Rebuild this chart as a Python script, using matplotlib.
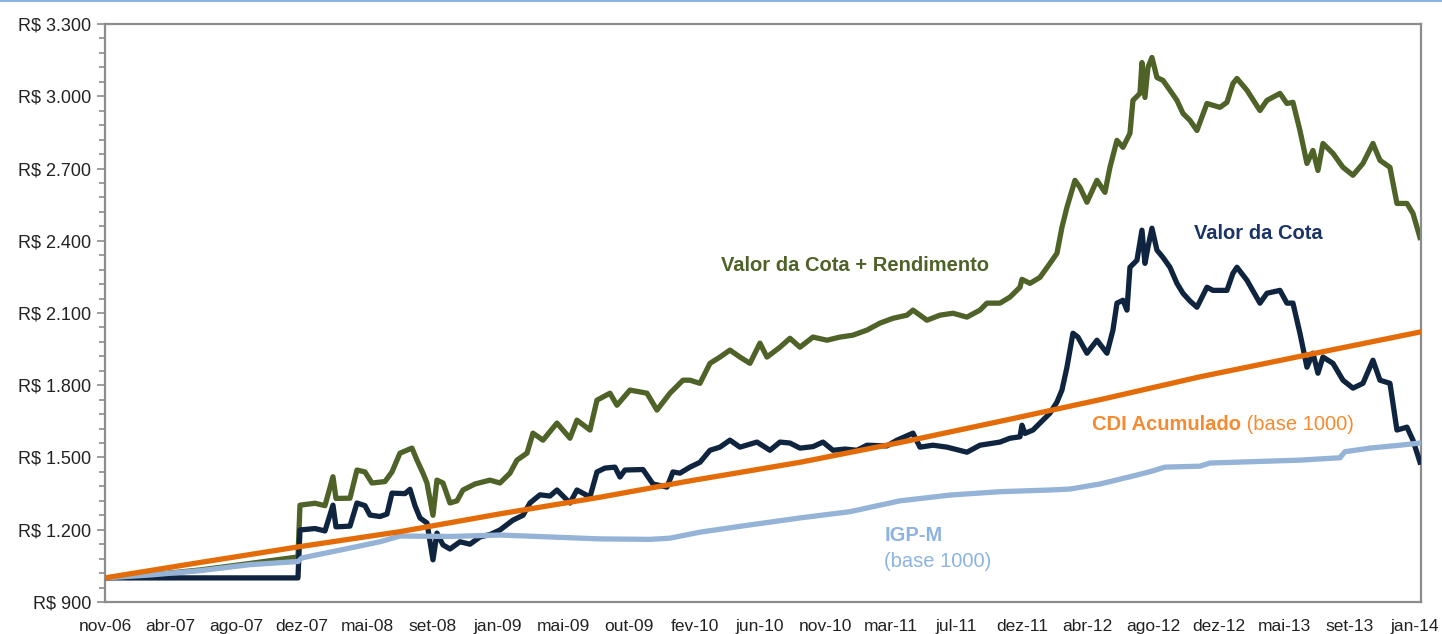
#------------------------------------------------------------------------------
#   Valor da Cota x CDI x IGP-M (base 1000), nov-06 a jan-14
#------------------------------------------------------------------------------
import matplotlib
matplotlib.use("Agg")
import matplotlib.pyplot as plt
from matplotlib.lines import Line2D
from matplotlib.ticker import FuncFormatter, MultipleLocator
import numpy as np

# eixo x: dias desde nov-06
tick_labels = ["nov-06", "abr-07", "ago-07", "dez-07", "mai-08", "set-08", "jan-09",
               "mai-09", "out-09", "fev-10", "jun-10", "nov-10", "mar-11", "jul-11",
               "dez-11", "abr-12", "ago-12", "dez-12", "mai-13", "set-13", "jan-14"]
tick_step = 131   # dias entre rótulos

cdi_dias = [0, 190, 390, 590, 790, 990, 1170, 1390, 1590, 1790, 1990, 2190, 2390, 2630]
cdi_valor = [1000, 1064, 1130, 1192, 1266, 1335, 1403, 1480, 1562, 1650, 1740, 1835, 1920, 2021]

igpm_dias = [0, 90, 190, 290, 386, 394, 490, 550, 590, 690, 790, 890, 990, 1090, 1130,
             1190, 1290, 1390, 1490, 1590, 1690, 1790, 1890, 1930, 1990, 2050, 2090,
             2120, 2190, 2210, 2390, 2470, 2480, 2530, 2590, 2630]
igpm_valor = [1000, 1012, 1030, 1055, 1068, 1083, 1124, 1150, 1174, 1172, 1178, 1170,
              1162, 1160, 1165, 1190, 1220, 1249, 1275, 1320, 1344, 1358, 1365, 1369,
              1390, 1420, 1441, 1460, 1464, 1477, 1489, 1499, 1524, 1539, 1551, 1560]

cota_dias = [0, 386, 390, 420, 440, 456, 462, 490, 504, 520, 530, 550, 564, 574, 600,
             610, 620, 630, 644, 656, 664, 676, 690, 710, 730, 750, 770, 790, 816, 836,
             850, 870, 890, 904, 930, 944, 970, 984, 1000, 1020, 1030, 1040, 1076, 1096,
             1124, 1136, 1150, 1170, 1190, 1210, 1230, 1250, 1270, 1304, 1330, 1350,
             1370, 1390, 1416, 1436, 1456, 1480, 1504, 1524, 1564, 1584, 1616, 1630,
             1656, 1684, 1724, 1750, 1790, 1810, 1830, 1834, 1840, 1856, 1870, 1890,
             1904, 1914, 1924, 1936, 1946, 1964, 1984, 2004, 2016, 2024, 2036, 2044,
             2050, 2064, 2074, 2080, 2086, 2094, 2104, 2116, 2130, 2144, 2156, 2170,
             2184, 2204, 2216, 2244, 2256, 2264, 2284, 2310, 2324, 2350, 2364, 2376,
             2390, 2404, 2416, 2426, 2436, 2456, 2476, 2496, 2516, 2536, 2550, 2570,
             2584, 2604, 2616, 2630]
cota_valor = [1000, 1000, 1199, 1205, 1195, 1302, 1212, 1215, 1311, 1300, 1261, 1255,
              1265, 1352, 1350, 1368, 1300, 1249, 1228, 1075, 1186, 1137, 1120, 1150,
              1140, 1170, 1180, 1199, 1240, 1260, 1311, 1345, 1340, 1365, 1311, 1365,
              1336, 1440, 1456, 1460, 1419, 1448, 1450, 1390, 1377, 1440, 1435, 1460,
              1480, 1530, 1543, 1572, 1543, 1564, 1530, 1564, 1560, 1539, 1545, 1564,
              1530, 1535, 1530, 1551, 1548, 1572, 1601, 1543, 1551, 1543, 1522, 1551,
              1564, 1580, 1586, 1634, 1600, 1614, 1643, 1684, 1730, 1780, 1875, 2016,
              2000, 1933, 1987, 1933, 2029, 2141, 2153, 2112, 2290, 2319, 2444, 2306,
              2373, 2452, 2361, 2331, 2290, 2223, 2182, 2150, 2124, 2207, 2194, 2194,
              2265, 2290, 2236, 2141, 2182, 2194, 2141, 2141, 2016, 1875, 1933, 1850,
              1917, 1891, 1821, 1788, 1808, 1904, 1821, 1808, 1614, 1626, 1572, 1481]

rend_dias = [0, 90, 190, 290, 386, 390, 420, 440, 456, 462, 490, 504, 520, 534, 560,
             574, 590, 614, 624, 636, 644, 656, 664, 676, 690, 704, 716, 740, 770, 790,
             810, 824, 844, 856, 876, 904, 930, 944, 970, 984, 1010, 1024, 1050, 1084,
             1104, 1130, 1156, 1170, 1190, 1210, 1230, 1250, 1270, 1290, 1310, 1324,
             1350, 1370, 1390, 1416, 1444, 1470, 1496, 1524, 1550, 1576, 1604, 1616,
             1644, 1670, 1696, 1724, 1750, 1764, 1790, 1810, 1830, 1834, 1850, 1870,
             1890, 1904, 1914, 1924, 1940, 1950, 1964, 1984, 2000, 2010, 2024, 2036,
             2050, 2056, 2070, 2074, 2080, 2086, 2094, 2104, 2116, 2130, 2144, 2156,
             2170, 2184, 2204, 2230, 2244, 2256, 2264, 2284, 2310, 2324, 2350, 2364,
             2376, 2390, 2404, 2416, 2426, 2436, 2456, 2476, 2496, 2516, 2536, 2550,
             2570, 2584, 2604, 2616, 2630]
rend_valor = [1000, 1012, 1033, 1060, 1087, 1302, 1310, 1300, 1420, 1330, 1331, 1448,
              1440, 1394, 1400, 1440, 1518, 1539, 1489, 1435, 1394, 1260, 1406, 1394,
              1311, 1320, 1365, 1390, 1406, 1394, 1435, 1489, 1518, 1601, 1572, 1643,
              1580, 1655, 1614, 1738, 1767, 1717, 1780, 1767, 1697, 1767, 1821, 1821,
              1808, 1891, 1917, 1946, 1917, 1891, 1975, 1917, 1958, 1995, 1958, 2000,
              1987, 2000, 2008, 2029, 2058, 2078, 2091, 2112, 2070, 2091, 2099, 2083,
              2112, 2141, 2141, 2166, 2207, 2240, 2223, 2248, 2306, 2348, 2456, 2539,
              2651, 2622, 2560, 2651, 2601, 2705, 2817, 2788, 2846, 2983, 3012, 3140,
              2995, 3120, 3161, 3078, 3066, 3025, 2983, 2929, 2900, 2858, 2970, 2954,
              2975, 3053, 3074, 3025, 2941, 2983, 3012, 2970, 2975, 2858, 2721, 2775,
              2692, 2804, 2763, 2705, 2672, 2721, 2804, 2734, 2705, 2555, 2555, 2514, 2414]

def reais(v, pos):
    return "R$ {:,.0f}".format(v).replace(",", ".")

def main():
    plt.rcParams['font.family'] = ['Liberation Sans', 'DejaVu Sans']
    fig = plt.figure(figsize=(14.42, 6.34), dpi=100)
    ax = fig.add_axes([0.0728, 0.0505, 0.9126, 0.9116])

    verde, azul, laranja, celeste = '#4F6228', '#0F243E', '#E36C09', '#95B3D7'
    lw = 3.8
    ax.plot(rend_dias, rend_valor, color=verde, lw=lw, zorder=2)
    ax.plot(cota_dias, cota_valor, color=azul, lw=lw, zorder=3)
    ax.plot(igpm_dias, igpm_valor, color=celeste, lw=lw, zorder=4)
    ax.plot(cdi_dias, cdi_valor, color=laranja, lw=lw, zorder=5)

    ax.set_xlim(0, 2632)
    ax.set_ylim(900, 3300)
    ax.set_xticks(np.arange(len(tick_labels)) * tick_step)
    ax.set_xticklabels(tick_labels)
    ax.yaxis.set_major_locator(MultipleLocator(300))
    ax.yaxis.set_minor_locator(MultipleLocator(60))
    ax.yaxis.set_major_formatter(FuncFormatter(reais))
    ax.tick_params(axis='x', length=0, pad=12, labelsize=12.5, labelcolor='#222222')
    ax.tick_params(axis='y', which='major', length=6, width=1.2, color='#8c8c8c',
                   labelsize=13, labelcolor='#222222', pad=4)
    ax.tick_params(axis='y', which='minor', length=4, width=1.2, color='#8c8c8c')
    for s in ax.spines.values():
        s.set_color('#8c8c8c')
        s.set_linewidth(1.6)

    # rótulos das séries
    fs = 14.5
    ax.text(1500, 2298, "Valor da Cota + Rendimento", color=verde, fontsize=fs,
            fontweight='bold', ha='center', va='center')
    ax.text(2306, 2431, "Valor da Cota", color='#1B3468', fontsize=fs,
            fontweight='bold', ha='center', va='center')
    t = ax.text(1974, 1638, "CDI Acumulado", color='#F58A30', fontsize=fs,
                fontweight='bold', ha='left', va='center')
    ax.annotate(" (base 1000)", xy=(1, 0.5), xycoords=t, color='#F58A30',
                fontsize=fs, ha='left', va='center')
    ax.text(1560, 1174, "IGP-M", color='#8DB3E2', fontsize=fs, fontweight='bold',
            ha='left', va='center')
    ax.text(1558, 1070, "(base 1000)", color='#8DB3E2', fontsize=fs,
            ha='left', va='center')

    # filete azul no topo
    fig.add_artist(Line2D([0, 1], [0.998, 0.998], transform=fig.transFigure,
                          color='#8DB3E2', lw=1.5))

    fig.savefig('out.png', dpi=100)

if __name__ == "__main__":
    main()
